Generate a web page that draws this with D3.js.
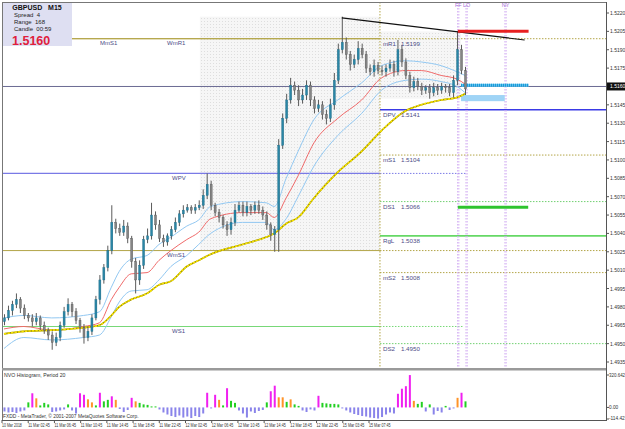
<!DOCTYPE html>
<html><head><meta charset="utf-8">
<script src="https://cdn.jsdelivr.net/npm/d3@7"></script>
<style>body{margin:0;background:#fff}svg{display:block}text{font-family:"Liberation Sans",Arial,sans-serif}</style>
</head><body><svg id="c" width="625" height="429"></svg>
<script>
// ---------------- DATA ----------------
const symbol = "GBPUSD", timeframe = "M15";
const infoLabels = ["Spread", "Range", "Candle"];
const infoValues = ["4", "168", "00:59"];
const currentPrice = 1.5160;

const firstOpen = 1.4968;
const closes = [
1.4971,1.4977,1.4982,1.4986,1.4979,1.4973,1.4971,1.4968,1.4971,1.4965,
1.4961,1.4957,1.4951,1.4955,1.4965,1.4976,1.4982,1.4976,1.4969,1.4963,
1.4955,1.4960,1.4971,1.4986,1.5002,1.5012,1.5026,1.5049,1.5044,1.5041,
1.5046,1.5036,1.5017,1.5002,1.5014,1.5035,1.5038,1.5055,1.5047,1.5036,
1.5033,1.5038,1.5043,1.5049,1.5056,1.5059,1.5061,1.5059,1.5061,1.5063,
1.5071,1.5080,1.5063,1.5057,1.5053,1.5047,1.5043,1.5049,1.5059,1.5063,
1.5057,1.5062,1.5059,1.5063,1.5059,1.5055,1.5047,1.5039,1.5043,1.5112,
1.5134,1.5149,1.5161,1.5157,1.5149,1.5153,1.5161,1.5149,1.5142,1.5145,
1.5137,1.5134,1.5145,1.5165,1.5190,1.5196,1.5186,1.5178,1.5182,1.5191,
1.5186,1.5175,1.5172,1.5177,1.5173,1.5172,1.5175,1.5178,1.5172,1.5190,
1.5180,1.5169,1.5159,1.5164,1.5160,1.5157,1.5159,1.5155,1.5159,1.5157,
1.5160,1.5159,1.5155,1.5165,1.5190,1.5173,1.5158];
// wick lengths in pips above max(open,close) and below min(open,close)
const upWick = [
3,4,3,5,2,3,2,3,4,2, 3,2,3,4,3,4,5,2,3,2, 3,4,3,3,4,3,4,14,3,4,
5,3,2,3,4,3,6,10,3,4, 3,2,3,4,3,4,3,2,3,4, 5,9,3,2,3,2,3,4,5,3,
3,4,2,3,4,3,3,2,3,5, 4,5,6,3,4,5,4,3,3,4, 3,4,5,6,5,21,4,3,4,6,
4,3,3,5,3,4,3,4,3,8, 4,3,3,4,3,3,2,3,4,3, 3,2,3,4,15,4,3];
const dnWick = [
3,2,4,3,4,3,3,4,3,4, 3,4,6,3,3,2,3,4,3,4, 5,3,3,2,4,3,3,3,4,3,
3,4,5,11,4,3,3,3,4,3, 4,3,3,2,3,3,2,3,3,2, 3,3,4,3,4,3,5,4,3,2,
3,3,4,3,3,4,4,5,14,18, 3,4,3,4,5,3,4,5,4,3, 4,5,3,4,3,3,4,5,3,4,
3,4,3,4,3,3,4,3,4,3, 4,3,4,3,3,4,3,5,3,4, 3,4,3,4,4,3,5];

// moving-average envelope, sampled at bar indices
const maIdx   = [0,5,12,20,24,27,29,32,36,39,42,46,49,52,60,66,68,71,74,78,84,90,95,101,105,110,114,116];
const maMid   = [1.4962,1.4964,1.4961,1.4964,1.4967,1.4986,1.4996,1.5007,1.5008,1.5018,1.5026,1.5035,1.5041,1.5052,1.5057,1.5057,1.5053,1.5069,1.5087,1.5114,1.5134,1.5149,1.5167,1.5173,1.5173,1.5169,1.5166,1.5162];
const maUpper = [1.4971,1.4973,1.4971,1.4973,1.4976,1.4996,1.5009,1.5019,1.5022,1.5031,1.5037,1.5046,1.5051,1.5062,1.5066,1.5065,1.5062,1.5085,1.5107,1.5133,1.5149,1.5163,1.5177,1.5181,1.5180,1.5177,1.5172,1.5169];
const maLower = [1.4946,1.4955,1.4953,1.4955,1.4957,1.4972,1.4984,1.4993,1.4994,1.5002,1.5013,1.5022,1.5031,1.5040,1.5049,1.5049,1.5043,1.5052,1.5070,1.5095,1.5120,1.5138,1.5157,1.5165,1.5166,1.5164,1.5160,1.5155];
const maSlow  = [1.4958,1.4960,1.4961,1.4963,1.4965,1.4973,1.4980,1.4986,1.4991,1.4998,1.5001,1.5013,1.5018,1.5023,1.5031,1.5037,1.5040,1.5048,1.5053,1.5069,1.5090,1.5107,1.5124,1.5140,1.5145,1.5149,1.5151,1.5154];

// daily pivot levels (right part)
const dayNames  = ["mR1","DPV","mS1","DS1","RgL","mS2","DS2"];
const dayValues = [1.5199,1.5141,1.5104,1.5066,1.5038,1.5008,1.4950];
// weekly / monthly levels (left part)
const weekNames  = ["MmS1","WmR1","WPV","WmS1","WS1"];
const weekValues = [1.5199,1.5199,1.5089,1.5026,1.4964];
const dayStartIdx = 94.6;

// session markers
const sessionNames = ["FF","LO","NY"];
const sessionIdx   = [114.3,116.4,126.2];

// trend line [barIndex, price]
const trendPts = [[85,1.5216],[131,1.5198]];
// yesterday / today range boxes [idx0, idx1, priceLow, priceHigh]
const rangeBoxes = [[49.3,94.6,1.5026,1.5217],[94.6,115,1.5150,1.5205]];
// target zones
const redZone   = [114.2,132,1.5205];
const greenZone = [114.2,131.9,1.5063];
const cyanZone  = [115,132,1.5161];
const blueBox   = [115,126,1.5148,1.5153];

// price axis ticks
const priceTicks = [1.5220,1.5205,1.5190,1.5175,1.5160,1.5145,1.5130,1.5115,1.5100,1.5085,1.5070,1.5055,1.5040,1.5025,1.5010,1.4995,1.4980,1.4965,1.4950,1.4935];
// time axis labels
const timeLabels = ["10 Mar 2018","11 Mar 02:45","11 Mar 06:45","11 Mar 10:45","11 Mar 14:45","11 Mar 18:45","11 Mar 22:45","12 Mar 02:45","12 Mar 06:45","12 Mar 10:45","12 Mar 14:45","12 Mar 18:45","12 Mar 22:45","15 Mar 03:45","15 Mar 07:45"];

// NVO histogram
const histTitle = "NVO Histogram, Period 20";
const histMax = 320.642, histMin = -114.423;
const histValues = [
-40,-50,-45,-55,-40,-30,50,140,90,20, 45,30,-45,-40,-30,-20,30,-30,-60,140,
125,80,50,20,145,60,75,110,75,-15, -45,-25,95,60,45,30,25,10,10,-20,
-50,-70,-85,-95,-80,-100,-90,-105,-85,-95, -60,145,-10,125,75,20,190,65,45,-30,
-60,-100,-40,-55,-35,-25,50,160,215,100, 100,55,80,30,15,-30,-45,-20,-30,115,
45,40,35,35,30,-10,-30,-50,-65,-75, -85,-90,-100,-105,-110,-95,-70,-50,-60,135,
185,210,320,65,35,55,-40,30,-70,-35, -50,15,-25,-10,95,145,60];
const histKind = ("nnnnnngmog"+"ggnnnngnnm"+"moogmggmon"+"nnmogggggn"+"nnnnnnnnnn"+
  "nmnmogmggn"+"nnnnnngmmo"+"ogoggnnnnm"+"gggggnnnnn"+"nnnnnnnnnm"+"mmmoggngnn"+"ngnnomg").split("");
const copyright = "FXDD - MetaTrader, \u00a9 2001-2007 MetaQuotes Software Corp.";

// ---------------- DRAW ----------------
const svg = d3.select("#c");
const axisX = 606, mainTop = 2, mainBot = 368, histTop = 371, histBot = 420;
const x = d3.scaleLinear().domain([0, closes.length - 1]).range([4, 465]);
const y = d3.scaleLinear().domain([1.4935, 1.5220]).range([362, 13]);
const yh = d3.scaleLinear().domain([histMin, histMax]).range([419, 375]);

const defs = svg.append("defs");
const pat = defs.append("pattern").attr("id","stip").attr("width",3).attr("height",3).attr("patternUnits","userSpaceOnUse");
pat.append("rect").attr("width",3).attr("height",3).attr("fill","#f6f6f6");
pat.append("rect").attr("width",1).attr("height",1).attr("fill","#dedede");
defs.append("clipPath").attr("id","mc").append("rect").attr("x",2).attr("y",mainTop).attr("width",axisX-2).attr("height",mainBot-mainTop);
defs.append("clipPath").attr("id","hc").append("rect").attr("x",2).attr("y",histTop).attr("width",axisX-2).attr("height",histBot-histTop);

svg.append("rect").attr("width",625).attr("height",429).attr("fill","#fff");
const main = svg.append("g").attr("clip-path","url(#mc)");

// range boxes
main.selectAll(".box").data(rangeBoxes).join("rect")
  .attr("x", d => x(d[0])).attr("width", d => x(d[1]) - x(d[0]))
  .attr("y", d => y(d[3])).attr("height", d => y(d[2]) - y(d[3]))
  .attr("fill","url(#stip)");

const olive = "#b3a548", green = "#78d878", slate = "#4c4c86";
const xDay = x(dayStartIdx);

// weekly levels (solid on the left)
const weekStyle = {MmS1:[olive,1], WmR1:[olive,1], WPV:["#7a7ae6",1.2], WmS1:[olive,1], WS1:[green,1.2]};
weekNames.forEach((n,i) => {
  const st = weekStyle[n];
  main.append("line").attr("x1",2).attr("x2",xDay).attr("y1",y(weekValues[i])).attr("y2",y(weekValues[i]))
    .attr("stroke",st[0]).attr("stroke-width",st[1]);
});
// dotted continuations
main.append("line").attr("x1",xDay).attr("x2",x(116.3)).attr("y1",y(weekValues[2])).attr("y2",y(weekValues[2]))
  .attr("stroke","#7a7ae6").attr("stroke-dasharray","1.5,1.5");
main.append("line").attr("x1",xDay).attr("x2",x(115.5)).attr("y1",y(weekValues[4])).attr("y2",y(weekValues[4]))
  .attr("stroke",green).attr("stroke-dasharray","1.5,1.5");
main.append("line").attr("x1",xDay).attr("x2",axisX).attr("y1",y(weekValues[3])).attr("y2",y(weekValues[3]))
  .attr("stroke",olive).attr("stroke-dasharray","1.5,1.5");

// daily levels
const dayStyle = {mR1:[olive,1,"1.5,1.5"], DPV:["#3a3ae6",1.6,null], mS1:[olive,1,"1.5,1.5"], DS1:["#70d070",1,"1.5,1.5"],
  RgL:["#66d866",1.6,null], mS2:[olive,1,"1.5,1.5"], DS2:["#70d070",1,"1.5,1.5"]};
dayNames.forEach((n,i) => {
  const st = dayStyle[n];
  const l = main.append("line").attr("x1",xDay).attr("x2",axisX).attr("y1",y(dayValues[i])).attr("y2",y(dayValues[i]))
    .attr("stroke",st[0]).attr("stroke-width",st[1]);
  if (st[2]) l.attr("stroke-dasharray",st[2]);
});

// current price line
main.append("line").attr("x1",2).attr("x2",axisX).attr("y1",y(currentPrice)).attr("y2",y(currentPrice))
  .attr("stroke","#6a6a92").attr("stroke-width",1);

// day separator
main.append("line").attr("x1",xDay).attr("x2",xDay).attr("y1",mainTop).attr("y2",mainBot)
  .attr("stroke",olive).attr("stroke-dasharray","1.5,1.5");
// session lines
sessionIdx.forEach(si => {
  [-0.6,0.6].forEach(off => {
    main.append("line").attr("x1",x(si)+off).attr("x2",x(si)+off).attr("y1",mainTop).attr("y2",mainBot)
      .attr("stroke","#cfa8f2").attr("stroke-width",0.9).attr("stroke-dasharray","1.5,1.5");
  });
});

// target zones
main.append("rect").attr("x",x(blueBox[0])).attr("width",x(blueBox[1])-x(blueBox[0]))
  .attr("y",y(blueBox[3])).attr("height",y(blueBox[2])-y(blueBox[3])).attr("fill","#9fd4f6");
main.append("line").attr("x1",x(cyanZone[0])).attr("x2",x(cyanZone[1])).attr("y1",y(cyanZone[2])).attr("y2",y(cyanZone[2]))
  .attr("stroke","#5fc2ee").attr("stroke-width",3);
main.append("line").attr("x1",x(cyanZone[0])).attr("x2",x(cyanZone[1])).attr("y1",y(cyanZone[2])).attr("y2",y(cyanZone[2]))
  .attr("stroke","#1a9ad8").attr("stroke-width",3).attr("stroke-dasharray","1,1");
main.append("line").attr("x1",x(greenZone[0])).attr("x2",x(greenZone[1])).attr("y1",y(greenZone[2])+2).attr("y2",y(greenZone[2])+2)
  .attr("stroke","#2ec42e").attr("stroke-width",3);

// moving averages
const maLine = arr => d3.line().curve(d3.curveMonotoneX).x((d,i) => x(maIdx[i])).y(d => y(d))(arr);
main.append("path").attr("d",maLine(maUpper)).attr("fill","none").attr("stroke","#92c8f2").attr("stroke-width",1);
main.append("path").attr("d",maLine(maLower)).attr("fill","none").attr("stroke","#92c8f2").attr("stroke-width",1);
main.append("path").attr("d",maLine(maMid)).attr("fill","none").attr("stroke","#f06a6a").attr("stroke-width",1);
main.append("path").attr("d",maLine(maSlow)).attr("fill","none").attr("stroke","#9a8a00").attr("stroke-width",1.6);
main.append("path").attr("d",maLine(maSlow)).attr("fill","none").attr("stroke","#f6e400").attr("stroke-width",1.6).attr("stroke-dasharray","2.5,1");

// candles
const bars = closes.map((c,i) => {
  const o = i === 0 ? firstOpen : closes[i-1];
  return {i, o, c, h: Math.max(o,c) + upWick[i]*0.0001, l: Math.min(o,c) - dnWick[i]*0.0001};
});
const cg = main.append("g");
cg.selectAll(".w").data(bars).join("line")
  .attr("x1", d => x(d.i)+0.5).attr("x2", d => x(d.i)+0.5)
  .attr("y1", d => y(d.h)).attr("y2", d => y(d.l))
  .attr("stroke","#5a5a5a").attr("stroke-width",1);
cg.selectAll(".b").data(bars).join("rect")
  .attr("x", d => x(d.i)-0.5).attr("width",2)
  .attr("y", d => y(Math.max(d.o,d.c)))
  .attr("height", d => Math.max(1, Math.abs(y(d.o)-y(d.c))))
  .attr("fill", d => d.c >= d.o ? "#2a86a6" : "#858585")
  .attr("stroke", d => d.c >= d.o ? "#1d6a86" : "#555").attr("stroke-width",0.4);

// trend line and red zone
main.append("line").attr("x1",x(trendPts[0][0])).attr("y1",y(trendPts[0][1]))
  .attr("x2",x(trendPts[1][0])).attr("y2",y(trendPts[1][1])).attr("stroke","#111").attr("stroke-width",1.1);
main.append("line").attr("x1",x(redZone[0])).attr("x2",x(redZone[1])).attr("y1",y(redZone[2])).attr("y2",y(redZone[2]))
  .attr("stroke","#e82020").attr("stroke-width",3);

// labels
const labelColor = slate;
const weekLabelX = {MmS1:100, WmR1:167, WPV:172, WmS1:167, WS1:172};
weekNames.forEach((n,i) => {
  svg.append("text").attr("x",weekLabelX[n]).attr("y",y(weekValues[i])+6.5)
    .attr("font-size",6).attr("fill",labelColor).text(n);
});
dayNames.forEach((n,i) => {
  const ty = y(dayValues[i]) + 7;
  svg.append("text").attr("x",xDay+3).attr("y",ty).attr("font-size",6.2).attr("fill",labelColor).text(n);
  svg.append("text").attr("x",xDay+21).attr("y",ty).attr("font-size",6.2).attr("fill",labelColor).text(dayValues[i].toFixed(4));
});
sessionNames.forEach((n,i) => {
  svg.append("text").attr("x",x(sessionIdx[i])).attr("y",7).attr("text-anchor","middle")
    .attr("font-size",5.5).attr("fill","#a872d6").text(n);
});

// info box
svg.append("rect").attr("x",2).attr("y",3).attr("width",70).attr("height",43).attr("fill","#dedff2");
svg.append("text").attr("x",37).attr("y",10).attr("text-anchor","middle").attr("font-size",7).attr("font-weight","bold")
  .attr("fill","#111").attr("xml:space","preserve").text(symbol + "   " + timeframe);
infoLabels.forEach((l,i) => {
  svg.append("text").attr("x",14).attr("y",17.3+i*6.6).attr("font-size",6).attr("fill","#222")
    .attr("xml:space","preserve").text(l + "  " + infoValues[i]);
});
svg.append("text").attr("x",12).attr("y",44.5).attr("font-size",12.5).attr("font-weight","bold")
  .attr("fill","#e0203c").text(currentPrice.toFixed(4));

// frame
svg.append("line").attr("x1",2).attr("x2",axisX).attr("y1",2.5).attr("y2",2.5).attr("stroke","#777");
svg.append("line").attr("x1",2.5).attr("x2",2.5).attr("y1",2).attr("y2",histBot).attr("stroke","#777");
svg.append("line").attr("x1",axisX+0.5).attr("x2",axisX+0.5).attr("y1",2).attr("y2",histBot).attr("stroke","#555");
svg.append("rect").attr("x",2).attr("y",mainBot).attr("width",axisX-2).attr("height",2.5).attr("fill","#9a9a9a");
svg.append("line").attr("x1",2).attr("x2",axisX+1).attr("y1",histBot+0.5).attr("y2",histBot+0.5).attr("stroke","#555");

// price axis
priceTicks.forEach(p => {
  svg.append("line").attr("x1",axisX).attr("x2",axisX+3).attr("y1",y(p)).attr("y2",y(p)).attr("stroke","#555");
  svg.append("text").attr("x",axisX+4).attr("y",y(p)+2).attr("font-size",5).attr("fill","#333").text(p.toFixed(4));
});
svg.append("rect").attr("x",axisX+1).attr("y",y(currentPrice)-4).attr("width",18).attr("height",8).attr("fill","#111");
svg.append("text").attr("x",axisX+4).attr("y",y(currentPrice)+2).attr("font-size",5).attr("fill","#fff").text(currentPrice.toFixed(4));

// histogram
const hg = svg.append("g").attr("clip-path","url(#hc)");
const kindColor = {m:"#f020f0", o:"#ff9428", g:"#22d022", n:"#8a84ea"};
hg.selectAll("rect").data(histValues).join("rect")
  .attr("x",(d,i) => x(i)-0.5).attr("width",2)
  .attr("y",d => d >= 0 ? yh(d) : yh(0)).attr("height",d => Math.abs(yh(d)-yh(0)))
  .attr("fill",(d,i) => kindColor[histKind[i]]);
svg.append("text").attr("x",4).attr("y",377).attr("font-size",5.2).attr("fill","#333").text(histTitle);
svg.append("text").attr("x",3).attr("y",418).attr("font-size",4.9).attr("fill","#333").text(copyright);
[[histMax,"320.642"],[0,"0.00"],[histMin,"-114.423"]].forEach(([v,t]) => {
  svg.append("line").attr("x1",axisX).attr("x2",axisX+3).attr("y1",yh(v)).attr("y2",yh(v)).attr("stroke","#555");
  svg.append("text").attr("x",axisX+3).attr("y",Math.min(yh(v)+2, 419.5)).attr("font-size",4.5).attr("fill","#333")
    .attr("textLength",t.length*2.3).attr("lengthAdjust","spacingAndGlyphs").text(t);
});

// time axis
const xt = d3.scalePoint().domain(timeLabels).range([2, 369]);
timeLabels.forEach(t => {
  svg.append("line").attr("x1",xt(t)).attr("x2",xt(t)).attr("y1",histBot).attr("y2",histBot+3).attr("stroke","#555");
  svg.append("text").attr("x",xt(t)).attr("y",427).attr("font-size",4.8).attr("fill","#333")
    .attr("textLength",t.length*1.8).attr("lengthAdjust","spacingAndGlyphs").text(t);
});
</script></body></html>
